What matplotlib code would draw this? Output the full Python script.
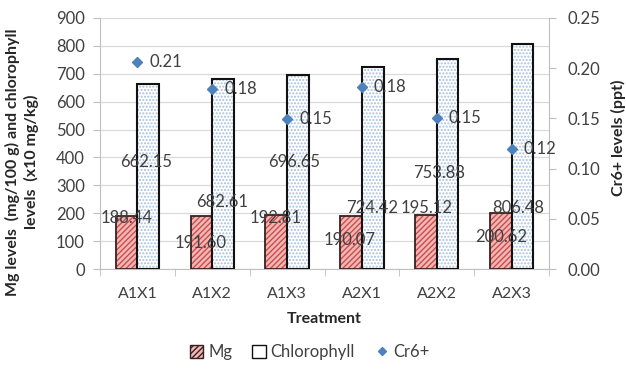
import numpy as np
import matplotlib
matplotlib.use("Agg")
import matplotlib.pyplot as plt
from matplotlib.patches import Patch
from matplotlib.lines import Line2D

plt.rcParams['font.family'] = ['Lato', 'DejaVu Sans']

# data
treatments = ['A1X1', 'A1X2', 'A1X3', 'A2X1', 'A2X2', 'A2X3']
mg = [188.44, 191.60, 192.81, 190.07, 195.12, 200.62]
chlorophyll = [662.15, 682.61, 696.65, 724.42, 753.88, 806.48]
cr6 = [0.206, 0.179, 0.149, 0.181, 0.150, 0.120]
cr6_labels = ['0.21', '0.18', '0.15', '0.18', '0.15', '0.12']

# where the data labels ended up (left axis units)
mg_label_y = [183, 93, 183, 104, 219, 115]
mg_label_dx = [-0.15, -0.16, -0.16, -0.17, -0.14, -0.14]
chl_label_y = [384, 240, 384, 219, 344, 219]
chl_label_dx = [0.12, 0.13, 0.10, 0.13, 0.03, 0.09]

x = np.arange(len(treatments))
w = 0.29
label_col = '#404040'

fig = plt.figure(figsize=(6.26, 3.85), dpi=100)
ax = fig.add_axes([100 / 626, 1 - 269 / 385, 449 / 626, 251 / 385])
ax2 = ax.twinx()

ax.set_axisbelow(True)
ax.yaxis.grid(True, color='#d9d9d9', lw=0.9)

# Mg bars: pink with red diagonal hatching
ax.bar(x - w / 2, mg, w, color='#f0b8b4', edgecolor='#cc4c4f', hatch='//////', lw=0, zorder=2)
ax.bar(x - w / 2, mg, w, color='none', edgecolor='#3a2020', lw=1.3, zorder=3)
# chlorophyll bars: white with light blue dots
ax.bar(x + w / 2, chlorophyll, w, color='white', edgecolor='#a8c0de', hatch='.....', lw=0, zorder=2)
ax.bar(x + w / 2, chlorophyll, w, color='none', edgecolor='#111111', lw=1.5, zorder=3)

for i in range(len(x)):
    ax.text(x[i] + mg_label_dx[i], mg_label_y[i], f'{mg[i]:.2f}', ha='center', va='center',
            fontsize=12, color=label_col, zorder=5)
    ax.text(x[i] + chl_label_dx[i], chl_label_y[i], f'{chlorophyll[i]:.2f}', ha='center', va='center',
            fontsize=12, color=label_col, zorder=5)

ax.set_xlim(-0.5, len(x) - 0.5)
ax.set_ylim(0, 900)
ax.set_yticks(np.arange(0, 901, 100))
ax.set_xticks(x)
ax.set_xticklabels(treatments, fontsize=11.5, color='#404040')
ax.set_xticks(np.arange(-0.5, len(x), 1), minor=True)
ax.tick_params(axis='x', which='major', length=0, pad=13)
ax.tick_params(axis='x', which='minor', length=5, color='#bfbfbf')
ax.tick_params(axis='y', length=5, color='#bfbfbf', labelsize=12, labelcolor='#404040', pad=6)
ax.set_xlabel('Treatment', fontsize=11.5, fontweight='bold', color='#262626', labelpad=8)

# Cr6+ on the secondary axis
ax2.plot(x, cr6, 'D', color='#4f81bd', ms=5.5, zorder=6)
for i in range(len(x)):
    ax2.text(x[i] + 0.16, cr6[i], cr6_labels[i], ha='left', va='center',
             fontsize=12, color=label_col, zorder=6)
ax2.set_ylim(0, 0.25)
ax2.set_yticks(np.arange(0, 0.251, 0.05))
ax2.set_yticklabels([f'{v:.2f}' for v in np.arange(0, 0.251, 0.05)])
ax2.tick_params(axis='y', length=5, color='#bfbfbf', labelsize=12, labelcolor='#404040', pad=8)

for a in (ax, ax2):
    for s in a.spines.values():
        s.set_visible(False)
ax2.spines['right'].set_visible(True)
ax2.spines['right'].set_color('#bfbfbf')
ax.spines['left'].set_visible(True)
ax.spines['left'].set_color('#bfbfbf')
ax.spines['bottom'].set_visible(True)
ax.spines['bottom'].set_color('#bfbfbf')

fig.text(22 / 626, 1 - 162 / 385, 'Mg levels  (mg/100 g) and chlorophyll\nlevels  (x10 mg/kg)', rotation=90,
         ha='center', va='center', multialignment='center', fontsize=11.5, fontweight='bold',
         color='#262626', linespacing=1.25)
fig.text(618 / 626, 1 - 138 / 385, 'Cr6+ levels (ppt)', rotation=90, ha='center', va='center',
         fontsize=11.5, fontweight='bold', color='#262626')

handles = [Patch(facecolor='#f0b8b4', edgecolor='#3a2020', hatch='//////', lw=1),
           Patch(facecolor='white', edgecolor='#111111', lw=1),
           Line2D([], [], marker='D', ls='', color='#4f81bd', ms=4.5)]
fig.legend(handles, ['Mg', 'Chlorophyll', 'Cr6+'], loc='center', bbox_to_anchor=(0.495, 1 - 352 / 385),
           ncol=3, frameon=False, fontsize=12, handlelength=0.8, handleheight=0.8,
           handletextpad=0.3, columnspacing=1.2, labelcolor='#404040')

fig.savefig('out.png', dpi=100)
